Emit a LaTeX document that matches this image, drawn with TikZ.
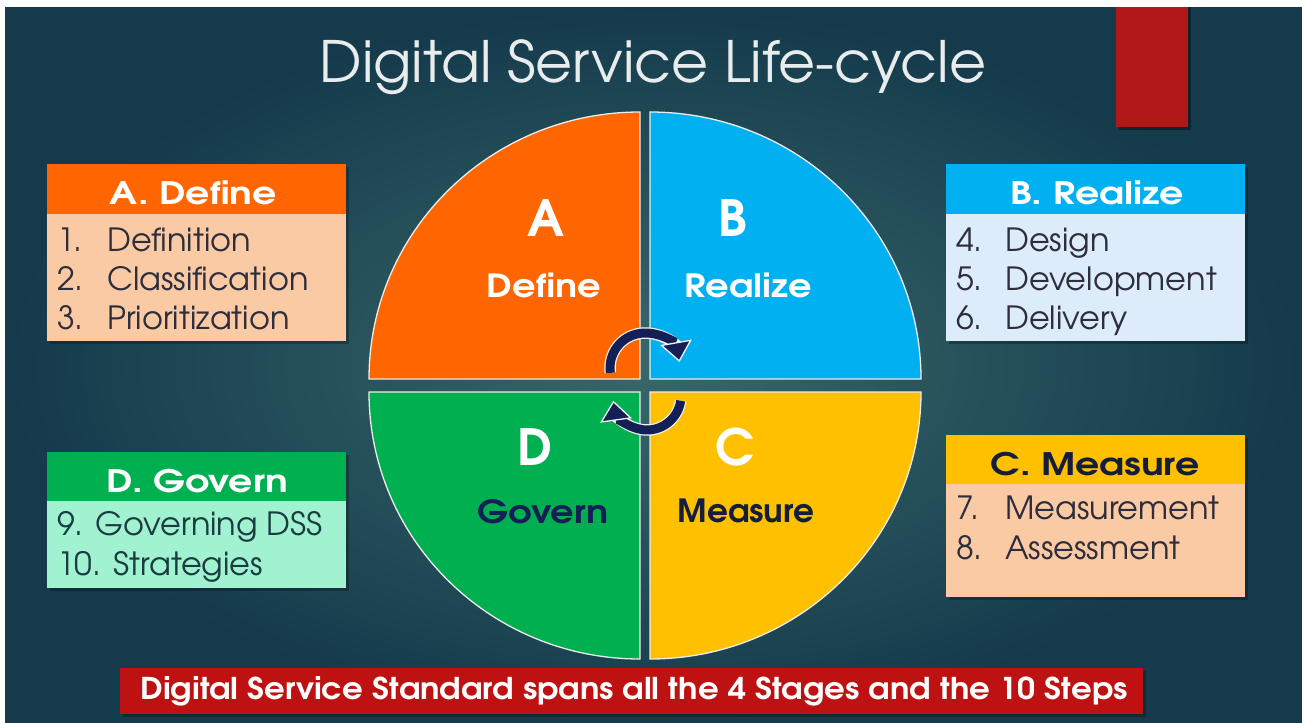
\documentclass[tikz,border=0pt]{standalone}
\usepackage{fontspec}
\setmainfont{TeX Gyre Adventor}
\usetikzlibrary{arrows.meta}
\definecolor{bgin}{RGB}{56,104,106}
\definecolor{bgout}{RGB}{20,58,75}
\definecolor{qorange}{RGB}{255,102,0}
\definecolor{qblue}{RGB}{0,176,240}
\definecolor{qgreen}{RGB}{0,176,80}
\definecolor{qyellow}{RGB}{255,192,0}
\definecolor{peach}{RGB}{250,202,165}
\definecolor{lblue}{RGB}{221,236,250}
\definecolor{mint}{RGB}{160,242,208}
\definecolor{navy}{RGB}{20,32,85}
\definecolor{darknavy}{RGB}{20,30,60}
\definecolor{bodytext}{RGB}{45,45,60}
\definecolor{tealtext}{RGB}{25,60,65}
\definecolor{redbar}{RGB}{178,24,24}
\definecolor{bannerred}{RGB}{190,18,18}
\definecolor{titlegray}{RGB}{232,236,236}
\newcommand{\hs}[2]{\scalebox{#1}[1]{#2}}
\tikzset{
 quad/.style={draw=white!85!gray, line width=1.3pt},
 bigletter/.style={text=white, font=\bfseries\fontsize{50}{50}\selectfont, inner sep=0},
 qword/.style={font=\bfseries\fontsize{32}{34}\selectfont, inner sep=0},
 header/.style={minimum width=299pt, minimum height=50pt, anchor=north west, inner sep=0},
 bodybox/.style={anchor=north west, minimum width=299pt, inner sep=0},
 htext/.style={font=\bfseries\fontsize{31}{33}\selectfont, anchor=base, inner sep=0},
 ltext/.style={font=\fontsize{32}{36}\selectfont, anchor=base west, inner sep=0},
 boxshadow/.style={fill=black, opacity=0.25},
 cyc/.style={line width=9pt, draw=navy, -{Triangle[width=32pt,length=20pt,fill=navy,color=white!90!gray,line width=1.3pt]}},
 cycw/.style={line width=11.5pt, draw=white!90!gray, shorten >=16pt},
}
\begin{document}
\begin{tikzpicture}[x=1pt,y=-1pt]
\useasboundingbox (0,0) rectangle (1302,723);
\fill[white] (0,0) rectangle (1302,723);
\shade[inner color=bgin, outer color=bgout] (5,7) rectangle (1302,723);
% red bar
\fill[black, opacity=0.35] (1119,7) rectangle (1191,130);
\fill[redbar] (1116,7) rectangle (1188,127);
% title
\node[text=titlegray, font=\fontsize{57}{60}\selectfont, inner sep=0, anchor=base] (title) at (653,82) {Digital Service Life-cycle};
% quadrants
\filldraw[fill=qorange, quad] (640,379) -- (369,379) arc[start angle=180,end angle=270,x radius=271,y radius=267] -- cycle;
\filldraw[fill=qblue, quad] (650,379) -- (650,112) arc[start angle=270,end angle=360,x radius=271,y radius=267] -- cycle;
\filldraw[fill=qyellow, quad] (650,392) -- (921,392) arc[start angle=0,end angle=90,x radius=271,y radius=267] -- cycle;
\filldraw[fill=qgreen, quad] (640,392) -- (640,659) arc[start angle=90,end angle=180,x radius=271,y radius=267] -- cycle;
% quadrant labels
\node[bigletter] (qa) at (546,218) {A};
\node[qword, text=white, anchor=base] (qaw) at (544,297) {\hs{1.15}{Define}};
\node[bigletter] (qb) at (733,218) {B};
\node[qword, text=white, anchor=base] (qbw) at (748,297) {\hs{1.15}{Realize}};
\node[bigletter] (qd) at (535,447) {D};
\node[qword, text=navy, anchor=base] (qdw) at (543,523) {\hs{1.15}{Govern}};
\node[bigletter] (qc) at (735,447) {C};
\node[qword, text=darknavy, anchor=base] (qcw) at (746,522) {\hs{1.02}{Measure}};
% cycle arrows
\draw[cycw] (645,368) ++(172:35) arc[start angle=172,end angle=350,radius=35];
\draw[cyc] (645,368) ++(172:35) arc[start angle=172,end angle=350,radius=35];
\draw[cycw] (647,396) ++(8:34) arc[start angle=8,end angle=172,radius=34];
\draw[cyc] (647,396) ++(8:34) arc[start angle=8,end angle=172,radius=34];
% A box
\fill[boxshadow] (50,167) rectangle (349,344);
\node[header, fill=qorange] (ah) at (47,164) {};
\node[bodybox, fill=peach, minimum height=127pt] (ab) at (47,214) {};
\node[htext, text=white] (aht) at (193,204) {\hs{1.22}{A. Define}};
\node[ltext, text=bodytext] (a1n) at (57,251) {1.};
\node[ltext, text=bodytext] (a1) at (107,251) {Definition};
\node[ltext, text=bodytext] (a2n) at (57,290) {2.};
\node[ltext, text=bodytext] (a2) at (107,290) {Classification};
\node[ltext, text=bodytext] (a3n) at (57,329) {3.};
\node[ltext, text=bodytext] (a3) at (107,329) {Prioritization};
% B box
\fill[boxshadow] (949,167) rectangle (1248,344);
\node[header, fill=qblue] (bh) at (946,164) {};
\node[bodybox, fill=lblue, minimum height=127pt] (bb) at (946,214) {};
\node[htext, text=white] (bht) at (1097,204) {\hs{1.22}{B. Realize}};
\node[ltext, text=bodytext] (b1n) at (956,251) {4.};
\node[ltext, text=bodytext] (b1) at (1005,251) {Design};
\node[ltext, text=bodytext] (b2n) at (956,290) {5.};
\node[ltext, text=bodytext] (b2) at (1005,290) {Development};
\node[ltext, text=bodytext] (b3n) at (956,329) {6.};
\node[ltext, text=bodytext] (b3) at (1005,329) {Delivery};
% C box
\fill[boxshadow] (949,438) rectangle (1248,600);
\node[header, fill=qyellow, minimum height=49pt] (ch) at (946,435) {};
\node[bodybox, fill=peach, minimum height=113pt] (cb) at (946,484) {};
\node[htext, text=darknavy] (cht) at (1095,475) {\hs{1.22}{C. Measure}};
\node[ltext, text=bodytext] (c1n) at (956,519) {7.};
\node[ltext, text=bodytext] (c1) at (1005,519) {Measurement};
\node[ltext, text=bodytext] (c2n) at (956,559) {8.};
\node[ltext, text=bodytext] (c2) at (1005,559) {Assessment};
% D box
\fill[boxshadow] (50,455) rectangle (349,591);
\node[header, fill=qgreen, minimum height=49pt] (dh) at (47,452) {};
\node[bodybox, fill=mint, minimum height=87pt] (db) at (47,501) {};
\node[htext, text=white] (dht) at (197,492) {\hs{1.22}{D. Govern}};
\node[ltext, text=tealtext] (d1) at (57,535) {9. Governing DSS};
\node[ltext, text=tealtext] (d2) at (57,575) {10. Strategies};
% banner
\fill[boxshadow] (123,671) rectangle (1146,717);
\node[fill=bannerred, minimum width=1023pt, minimum height=46pt, inner sep=0] (banner) at (631.5,691) {};
\node[text=white, font=\bfseries\fontsize{30}{31}\selectfont, inner sep=0] (bannert) at (634,691) {\hs{1.08}{Digital Service Standard spans all the 4 Stages and the 10 Steps}};
\end{tikzpicture}
\end{document}
